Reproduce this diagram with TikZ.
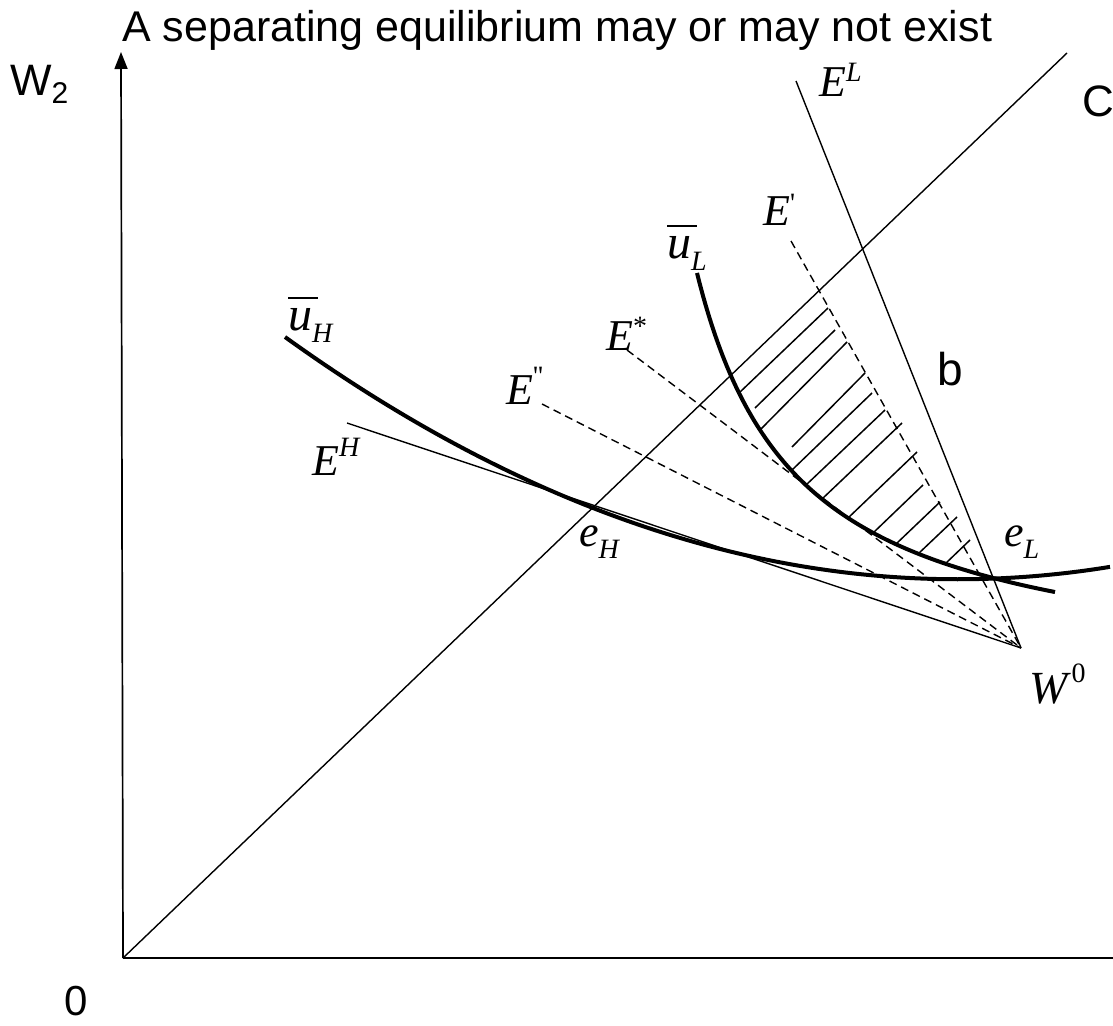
\documentclass[tikz,border=0pt]{standalone}
\usepackage{fontspec}
\setmainfont{Liberation Serif}
\newfontfamily\arial{Liberation Sans}
\newfontfamily\rawserif{Liberation Serif}[Ligatures=TeXOff]
\usetikzlibrary{arrows.meta}
\newcommand\sz[1]{\fontsize{#1}{#1}\selectfont}
\begin{document}
\begin{tikzpicture}[x=1pt,y=-1pt,
  thinln/.style={line width=1.4pt},
  axisln/.style={line width=1.7pt},
  dashln/.style={line width=1.4pt, dash pattern=on 8pt off 5pt},
  thickcurve/.style={line width=4pt},
  hatchln/.style={line width=1.5pt},
  lbl/.style={inner sep=0pt, anchor=base west}]
\useasboundingbox (0,0) rectangle (1113,1025);
% key points
\coordinate (O) at (123,958);
\coordinate (Ytip) at (121,52);
\coordinate (Xend) at (1113,958);
\coordinate (Ctop) at (1067,53);
\coordinate (W0) at (1021,648);
\coordinate (ELtop) at (796,81);
\coordinate (EHstart) at (347,423);
\coordinate (Epstart) at (791,241);
\coordinate (Esstart) at (627,350);
\coordinate (Eddstart) at (542,404);
% axes
\draw[axisln,-{Triangle[length=17pt,width=13pt]}] (O) -- (Ytip);
\draw[axisln] (O) -- (Xend);
% straight lines
\draw[thinln] (O) -- (Ctop);
\draw[thinln] (ELtop) -- (W0);
\draw[thinln] (EHstart) -- (W0);
\draw[dashln] (Epstart) -- (W0);
\draw[dashln] (Esstart) -- (W0);
\draw[dashln] (Eddstart) -- (W0);
% hatching
\foreach \a/\b/\c/\d in {739/393/828/308, 755/408/835/330, 760/430/847/342,
  792/447/865/373, 792/470/872/393, 806/485/885/410, 822/499/902/423,
  848/518/917/452, 873/533/923/485, 896/544/940/502, 918/554/957/517,
  945/564/970/540}
  \draw[hatchln] (\a,\b) -- (\c,\d);
% indifference curves
\draw[thickcurve] plot[domain=285:1110,samples=120] (\x,{337+0.72*(\x-285)-5.35*((\x-285)/100)^2});
\draw[thickcurve] plot[domain=697:1055,samples=120] (\x,{682.2-414.13/((\x-595.8)/100)});
% labels
\node[lbl] (title) at (122,42) {\arial\sz{43}A separating equilibrium may or may not exist};
\node[lbl] (wtwo) at (10,95) {\arial\sz{44}W\raisebox{-9pt}{\sz{30}2}};
\node[lbl] (zero) at (64,1015) {\arial\sz{42}0};
\node[lbl] (clab) at (1082,116) {\arial\sz{44}C};
\node[lbl] (blab) at (937,385) {\arial\sz{46}b};
\node[lbl] (EL) at (819,96) {\sz{44}\itshape E\raisebox{15pt}{\sz{28}L}};
\node[lbl] (Ep) at (763,225) {\sz{44}\itshape E\raisebox{13pt}{\sz{28}\rawserif\upshape '}};
\node[lbl] (Es) at (606,350) {\sz{44}\itshape E\raisebox{15pt}{\sz{28}\upshape *}};
\node[lbl] (Edd) at (506,404) {\sz{44}\itshape E\raisebox{19pt}{\sz{28}\rawserif\upshape ''}};
\node[lbl] (EH) at (312,475) {\sz{44}\itshape E\raisebox{19pt}{\sz{28}H}};
\node[lbl] (eH) at (579,546) {\sz{44}\itshape e\raisebox{-12pt}{\sz{28}H}};
\node[lbl] (eL) at (1004,546) {\sz{44}\itshape e\raisebox{-12pt}{\sz{28}L}};
\node[lbl] (Wzero) at (1029,703) {\sz{46}\itshape W\hspace{4pt}\raisebox{21pt}{\sz{28}\upshape 0}};
\node[lbl] (uH) at (288,330) {\sz{48}\itshape\makebox[0pt][l]{\rule[31pt]{30pt}{2.2pt}}u\raisebox{-12pt}{\sz{28}H}};
\node[lbl] (uL) at (667,258) {\sz{48}\itshape\makebox[0pt][l]{\rule[31pt]{30pt}{2.2pt}}u\raisebox{-12pt}{\sz{28}L}};
\end{tikzpicture}
\end{document}
